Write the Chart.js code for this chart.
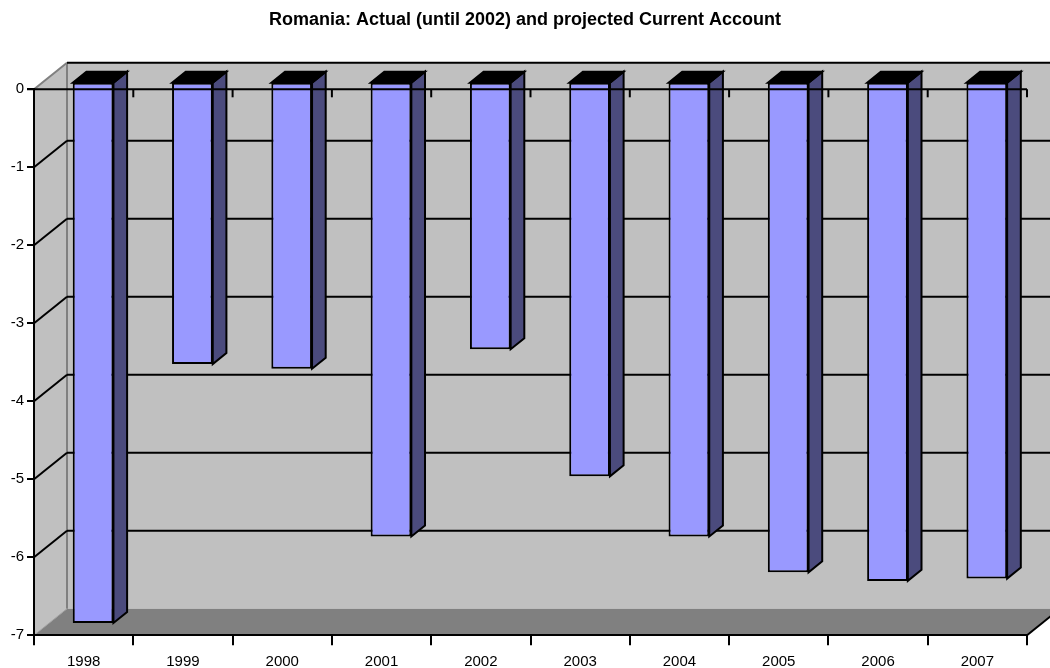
<!DOCTYPE html>
<html><head><meta charset="utf-8">
<script src="https://cdn.jsdelivr.net/npm/chart.js@4.4.1/dist/chart.umd.min.js"></script>
<style>html,body{margin:0;padding:0;background:#fff;overflow:hidden}canvas{display:block}</style>
</head><body>
<canvas id="c" width="1050" height="668"></canvas>
<script>
const titleText = 'Romania: Actual (until 2002) and projected Current Account';
const categories = ['1998','1999','2000','2001','2002','2003','2004','2005','2006','2007'];
const values = [-6.94, -3.62, -3.68, -5.83, -3.43, -5.06, -5.83, -6.29, -6.40, -6.37];
const yMin = -7, yMax = 0, yStep = 1;

// 3D geometry (pixels for full depth, fractions of depth)
const DX = 33, DY = 26.6, FRONT = 0.286, DEPTH = 0.414;

function poly(ctx, pts) {
  ctx.beginPath();
  ctx.moveTo(pts[0][0], pts[0][1]);
  for (let i = 1; i < pts.length; i++) ctx.lineTo(pts[i][0], pts[i][1]);
  ctx.closePath();
}
function line(ctx, x1, y1, x2, y2, color, w) {
  ctx.beginPath(); ctx.moveTo(x1, y1); ctx.lineTo(x2, y2);
  ctx.strokeStyle = color; ctx.lineWidth = w; ctx.stroke();
}

const scene3d = {
  id: 'scene3d',
  beforeDraw(chart) {
    const {ctx, chartArea: a, scales: {y}} = chart;
    const L = a.left, R = a.right, T = a.top, B = a.bottom;
    ctx.save();
    ctx.fillStyle = '#c0c0c0';
    poly(ctx, [[L, T], [L + DX, T - DY], [L + DX, B - DY], [L, B]]); ctx.fill();
    poly(ctx, [[L + DX, T - DY], [R + DX + 40, T - DY], [R + DX + 40, B - DY], [L + DX, B - DY]]); ctx.fill();
    ctx.fillStyle = '#808080';
    poly(ctx, [[L, B], [L + DX, B - DY], [R + DX, B - DY], [R, B]]); ctx.fill();
    line(ctx, L + DX, T - DY, L + DX, B - DY, '#808080', 2);
    for (let v = yMax; v >= yMin; v -= yStep) {
      const yf = y.getPixelForValue(v), yb = yf - DY;
      if (v === yMax) {
        line(ctx, L, yf, L + DX, yb, '#808080', 2);
        line(ctx, L + DX, yb, R + DX + 40, yb, '#000', 2);
      } else if (v === yMin) {
        line(ctx, L, yf, L + DX, yb, '#a0a0a0', 1);
      } else {
        line(ctx, L, yf, L + DX, yb, '#000', 2);
        line(ctx, L + DX, yb, R + DX + 40, yb, '#000', 2);
      }
    }
    line(ctx, R, B, R + DX, B - DY, '#000', 2);
    ctx.restore();
  },
  beforeDatasetsDraw(chart) {
    chart.ctx.save();
    chart.ctx.translate(DX * FRONT, -DY * FRONT);
  },
  afterDatasetsDraw(chart) {
    const ctx = chart.ctx;
    const dx = DX * DEPTH, dy = DY * DEPTH;
    const meta = chart.getDatasetMeta(0);
    ctx.lineWidth = 2; ctx.strokeStyle = '#000'; ctx.lineJoin = 'miter';
    meta.data.forEach(el => {
      const p = el.getProps(['x', 'y', 'base', 'width'], true);
      const l = p.x - p.width / 2, r = p.x + p.width / 2;
      const t = Math.min(p.y, p.base), b = Math.max(p.y, p.base);
      ctx.fillStyle = '#4b4b7d';
      poly(ctx, [[r, t], [r + dx, t - dy], [r + dx, b - dy], [r, b]]);
      ctx.fill(); ctx.stroke();
      ctx.fillStyle = '#000';
      poly(ctx, [[l, t], [l + dx, t - dy], [r + dx, t - dy], [r, t]]);
      ctx.fill(); ctx.stroke();
    });
    ctx.restore();
    const {chartArea: a, scales: {x, y}} = chart;
    const y0 = y.getPixelForValue(0);
    ctx.save();
    line(ctx, a.left - 7, y0, a.right, y0, '#000', 2);
    for (let i = 0; i <= categories.length; i++) {
      const xp = x.getPixelForValue(i - 0.5);
      line(ctx, xp, y0, xp, y0 + 8, '#000', 2);
    }
    ctx.restore();
  }
};

Chart.defaults.font.family = "'Liberation Sans', Arial, sans-serif";
Chart.defaults.color = '#000';

new Chart(document.getElementById('c'), {
  type: 'bar',
  data: {
    labels: categories,
    datasets: [{
      data: values,
      backgroundColor: '#9999ff',
      borderColor: '#000',
      borderWidth: 2,
      borderSkipped: false,
      categoryPercentage: 1,
      barPercentage: 0.41,
      clip: false
    }]
  },
  options: {
    responsive: false,
    devicePixelRatio: 1,
    animation: false,
    events: [],
    layout: {padding: 0},
    plugins: {
      legend: {display: false},
      tooltip: {enabled: false},
      title: {
        display: true, text: titleText, color: '#000',
        font: {size: 18, weight: 'bold'},
        padding: {top: 9.5, bottom: 58.2}
      }
    },
    scales: {
      x: {
        offset: true,
        grid: {offset: true, drawOnChartArea: false, drawTicks: true, tickLength: 10, color: '#000', lineWidth: 2},
        border: {display: true, color: '#000', width: 2},
        ticks: {font: {size: 15}, padding: 8, maxRotation: 0, autoSkip: false, color: '#000'},
        afterFit(s) { s.height = 668 - 635.3; }
      },
      y: {
        min: yMin, max: yMax,
        grid: {drawOnChartArea: false, drawTicks: true, tickLength: 7, color: '#000', lineWidth: 2},
        border: {display: true, color: '#000', width: 2},
        ticks: {stepSize: yStep, font: {size: 15}, padding: 3, color: '#000'},
        afterFit(s) { s.width = 34; }
      },
      yRight: {
        position: 'right',
        min: yMin, max: yMax,
        grid: {display: false, drawTicks: false},
        border: {display: false},
        ticks: {display: false},
        afterFit(s) { s.width = 23; }
      }
    }
  },
  plugins: [scene3d]
});
</script>
</body></html>
